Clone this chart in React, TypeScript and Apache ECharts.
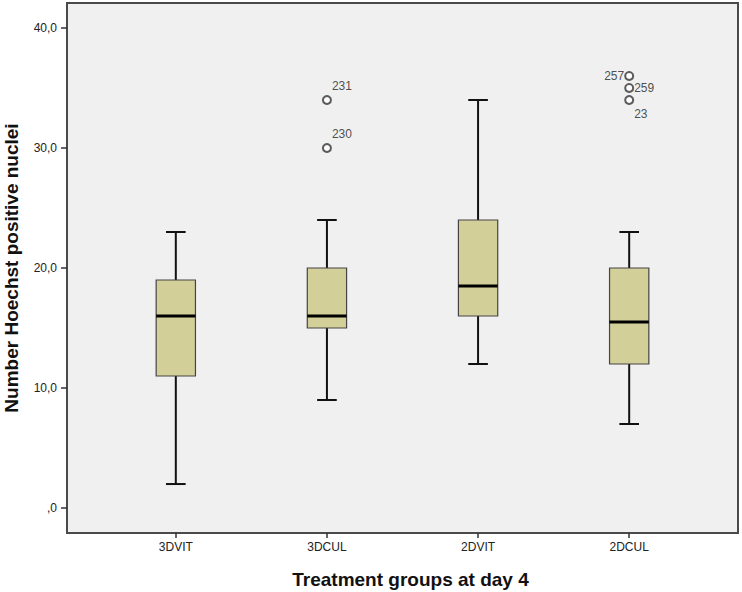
import React, { useEffect, useRef } from "react";
import * as echarts from "echarts";

const categories = ["3DVIT", "3DCUL", "2DVIT", "2DCUL"];
// [min, Q1, median, Q3, max] per group
const whiskerLow = [2, 9, 12, 7];
const q1 = [11, 15, 16, 12];
const median = [16, 16, 18.5, 15.5];
const q3 = [19, 20, 24, 20];
const whiskerHigh = [23, 24, 34, 23];

const outlierGroup = [1, 1, 3, 3, 3];
const outlierValue = [34, 30, 36, 35, 34];
const outlierId = ["231", "230", "257", "259", "23"];
const outlierLabelSide = ["right", "right", "left", "right", "right"];
const outlierLabelShift = [-14, -14, 0, 0, 14];

const yTicks = [0, 10, 20, 30, 40];
const xTicks = [1, 2, 3, 4];

const FONT = "'Liberation Sans', Arial, sans-serif";

export default function App() {
  const ref = useRef<HTMLDivElement>(null);
  useEffect(() => {
    if (!ref.current) return;
    const chart = echarts.init(ref.current, null, { renderer: "svg" });
    const boxData = categories.map((_, i) => [
      i + 1,
      whiskerLow[i],
      q1[i],
      median[i],
      q3[i],
      whiskerHigh[i],
    ]);
    const outliers = outlierValue.map((v, i) => ({
      value: [outlierGroup[i] + 1, v],
      name: outlierId[i],
      label: {
        show: true,
        formatter: outlierId[i],
        position: outlierLabelSide[i],
        distance: 0,
        offset: [0, outlierLabelShift[i]],
        color: "#222",
        fontSize: 12,
        fontFamily: FONT,
      },
    }));
    chart.setOption({
      animation: false,
      backgroundColor: "#ffffff",
      grid: {
        left: 67,
        right: 4,
        top: 3,
        bottom: 59,
        outerBoundsMode: "none",
        containLabel: false,
        show: true,
        backgroundColor: "#f0f0f0",
        borderColor: "#4a4a4a",
        borderWidth: 2,
      },
      xAxis: {
        type: "value",
        min: 0.28,
        max: 4.72,
        splitLine: { show: false },
        axisLine: { show: false, onZero: false },
        axisTick: {
          show: true,
          customValues: xTicks,
          length: 5,
          lineStyle: { color: "#333", width: 1.5 },
        },
        axisLabel: {
          customValues: xTicks,
          formatter: (v: number) => categories[Math.round(v) - 1] ?? "",
          color: "#222",
          fontSize: 12,
          fontFamily: FONT,
          margin: 8,
        },
        name: "Treatment groups at day 4",
        nameLocation: "middle",
        nameGap: 37,
        nameTextStyle: {
          fontWeight: "bold",
          fontSize: 19,
          color: "#111",
          fontFamily: FONT,
          padding: [0, 0, 0, 16],
        },
      },
      yAxis: {
        type: "value",
        min: -2.08,
        max: 42.08,
        splitLine: { show: false },
        axisLine: { show: false, onZero: false },
        axisTick: {
          show: true,
          customValues: yTicks,
          length: 6,
          lineStyle: { color: "#333", width: 1.5 },
        },
        axisLabel: {
          customValues: yTicks,
          formatter: (v: number) =>
            v === 0 ? ",0" : v.toFixed(1).replace(".", ","),
          color: "#222",
          fontSize: 12,
          fontFamily: FONT,
          margin: 10,
        },
        name: "Number Hoechst positive nuclei",
        nameLocation: "middle",
        nameRotate: 90,
        nameGap: 46,
        nameTextStyle: {
          fontWeight: "bold",
          fontSize: 19,
          color: "#111",
          fontFamily: FONT,
        },
      },
      series: [
        {
          type: "custom",
          data: boxData,
          encode: { x: 0, y: [1, 2, 3, 4, 5] },
          renderItem: (params: any, api: any) => {
            const x = api.value(0);
            const pLow = api.coord([x, api.value(1)]);
            const pQ1 = api.coord([x, api.value(2)]);
            const pMed = api.coord([x, api.value(3)]);
            const pQ3 = api.coord([x, api.value(4)]);
            const pHigh = api.coord([x, api.value(5)]);
            const w = api.size([0.26, 0])[0];
            const cx = pMed[0];
            const capW = w / 2;
            const line = { stroke: "#111", lineWidth: 2 };
            return {
              type: "group",
              children: [
                {
                  type: "line",
                  shape: { x1: cx, y1: pHigh[1], x2: cx, y2: pQ3[1] },
                  style: line,
                },
                {
                  type: "line",
                  shape: { x1: cx, y1: pQ1[1], x2: cx, y2: pLow[1] },
                  style: line,
                },
                {
                  type: "line",
                  shape: {
                    x1: cx - capW / 2,
                    y1: pHigh[1],
                    x2: cx + capW / 2,
                    y2: pHigh[1],
                  },
                  style: line,
                },
                {
                  type: "line",
                  shape: {
                    x1: cx - capW / 2,
                    y1: pLow[1],
                    x2: cx + capW / 2,
                    y2: pLow[1],
                  },
                  style: line,
                },
                {
                  type: "rect",
                  shape: {
                    x: cx - w / 2,
                    y: pQ3[1],
                    width: w,
                    height: pQ1[1] - pQ3[1],
                  },
                  style: { fill: "#d3cf98", stroke: "#444", lineWidth: 1.2 },
                },
                {
                  type: "line",
                  shape: {
                    x1: cx - w / 2,
                    y1: pMed[1],
                    x2: cx + w / 2,
                    y2: pMed[1],
                  },
                  style: { stroke: "#000", lineWidth: 3 },
                },
              ],
            };
          },
        },
        {
          type: "scatter",
          data: outliers,
          symbol: "emptyCircle",
          symbolSize: 8,
          itemStyle: { color: "#333", borderColor: "#333", borderWidth: 1.3 },
        },
      ],
    });
    return () => chart.dispose();
  }, []);
  return (
    <div
      ref={ref}
      style={{ position: "fixed", left: 0, top: 0, width: 742, height: 592 }}
    />
  );
}
